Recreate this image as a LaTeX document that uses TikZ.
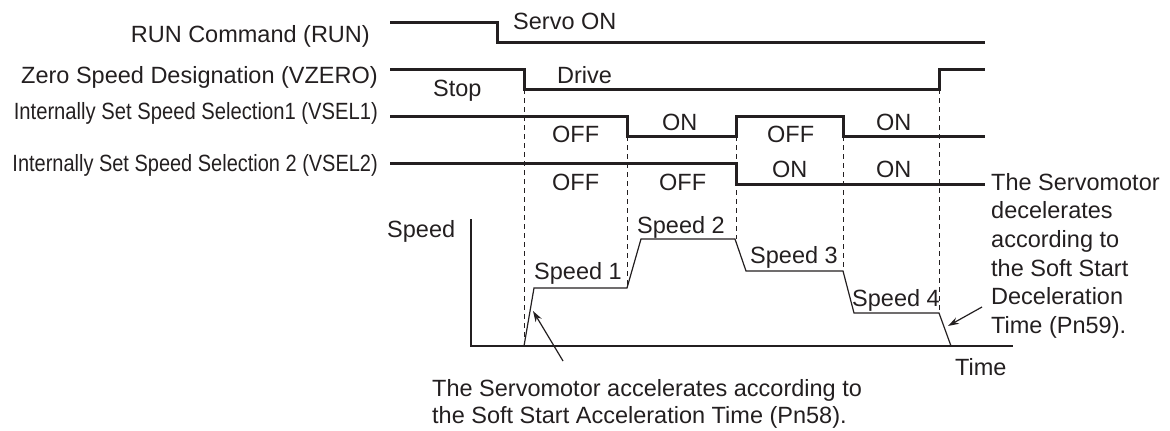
\documentclass[tikz,border=0pt]{standalone}
\usepackage{fontspec}
\setmainfont{Liberation Sans}
\usepackage{graphicx}
\usepackage{tikz}
\usetikzlibrary{arrows.meta, positioning, calc}
\usepackage{xcolor}
\definecolor{ink}{HTML}{231F20}

\begin{document}
\begin{tikzpicture}[x=1pt, y=-1pt,
    every node/.style={font=\fontsize{23.5}{28.5}\selectfont, text=ink, inner sep=0pt},
    sig/.style={draw=ink, line width=3pt},
    curve/.style={draw=ink, line width=1.2pt},
    guide/.style={draw=ink, line width=1pt, dash pattern=on 5pt off 4pt},
    lbl/.style={anchor=base east},
    lvl/.style={anchor=base west},
    note/.style={anchor=north west, align=left},
    pointer/.style={draw=ink, line width=1.2pt, -{Stealth[length=11pt, width=7pt]}}
]
    \useasboundingbox (0,0) rectangle (1170,431);

    % Signal names
    \node[lbl] (run)   at (370,42)  {RUN Command (RUN)};
    \node[lbl] (vzero) at (378,83)  {Zero Speed Designation (VZERO)};
    \node[lbl] (vsel1) at (378,119) {\scalebox{0.86}[1]{Internally Set Speed Selection1 (VSEL1)}};
    \node[lbl] (vsel2) at (378,171) {\scalebox{0.85}[1]{Internally Set Speed Selection 2 (VSEL2)}};

    % Waveforms
    \draw[sig] (390,22) -- (497,22) -- (497,42) -- (985,42);
    \draw[sig] (390,69) -- (524,69) -- (524,89) -- (939,89) -- (939,69) -- (985,69);
    \draw[sig] (390,116) -- (627,116) -- (627,136) -- (736,136) -- (736,116)
        -- (843,116) -- (843,136) -- (985,136);
    \draw[sig] (390,163) -- (736,163) -- (736,184) -- (985,184);

    % States
    \node[lvl] (servo) at (513,29)  {Servo ON};
    \node[lvl] (stop)  at (433,96)  {Stop};
    \node[lvl] (drive) at (557,83)  {Drive};
    \node[lvl] (a1)    at (552,142) {OFF};
    \node[lvl] (a2)    at (662,130) {ON};
    \node[lvl] (a3)    at (767,142) {OFF};
    \node[lvl] (a4)    at (876,130) {ON};
    \node[lvl] (b1)    at (552,190) {OFF};
    \node[lvl] (b2)    at (659,190) {OFF};
    \node[lvl] (b3)    at (772,177) {ON};
    \node[lvl] (b4)    at (876,177) {ON};

    % Timing guides
    \draw[guide] (524,89)  -- (524,346);
    \draw[guide] (627,136) -- (627,288);
    \draw[guide] (736,136) -- (736,239);
    \draw[guide] (843,136) -- (843,271);
    \draw[guide] (939,89)  -- (939,313);

    % Speed profile
    \draw[curve] (471,219) -- (471,346) -- (1013,346);
    \draw[curve] (524,346) -- (534,288) -- (627,288) -- (641,239) -- (735,239)
        -- (746,271) -- (843,271) -- (854,313) -- (939,313) -- (951,346);

    \node[lvl] (speed) at (387,237) {Speed};
    \node[lvl] (time)  at (955,375) {Time};
    \node[lvl] (sp1)   at (534,279) {Speed 1};
    \node[lvl] (sp2)   at (637,233) {Speed 2};
    \node[lvl] (sp3)   at (750,263) {Speed 3};
    \node[lvl] (sp4)   at (852,306) {Speed 4};

    % Soft start notes
    \node[note, font=\fontsize{23.5}{27}\selectfont] (accnote) at (432,379)
        {The Servomotor accelerates according to\\the Soft Start Acceleration Time (Pn58).};
    \node[note, font=\fontsize{23.5}{28.6}\selectfont] (decnote) at (991,173)
        {The Servomotor\\decelerates\\according to\\the Soft Start\\Deceleration\\Time (Pn59).};

    \coordinate (acctail) at (563,361);
    \coordinate (acchead) at (533,311);
    \coordinate (dectail) at (982,307);
    \coordinate (dechead) at (948,326);
    \draw[pointer] (acctail) -- (acchead);
    \draw[pointer] (dectail) -- (dechead);
\end{tikzpicture}
\end{document}
